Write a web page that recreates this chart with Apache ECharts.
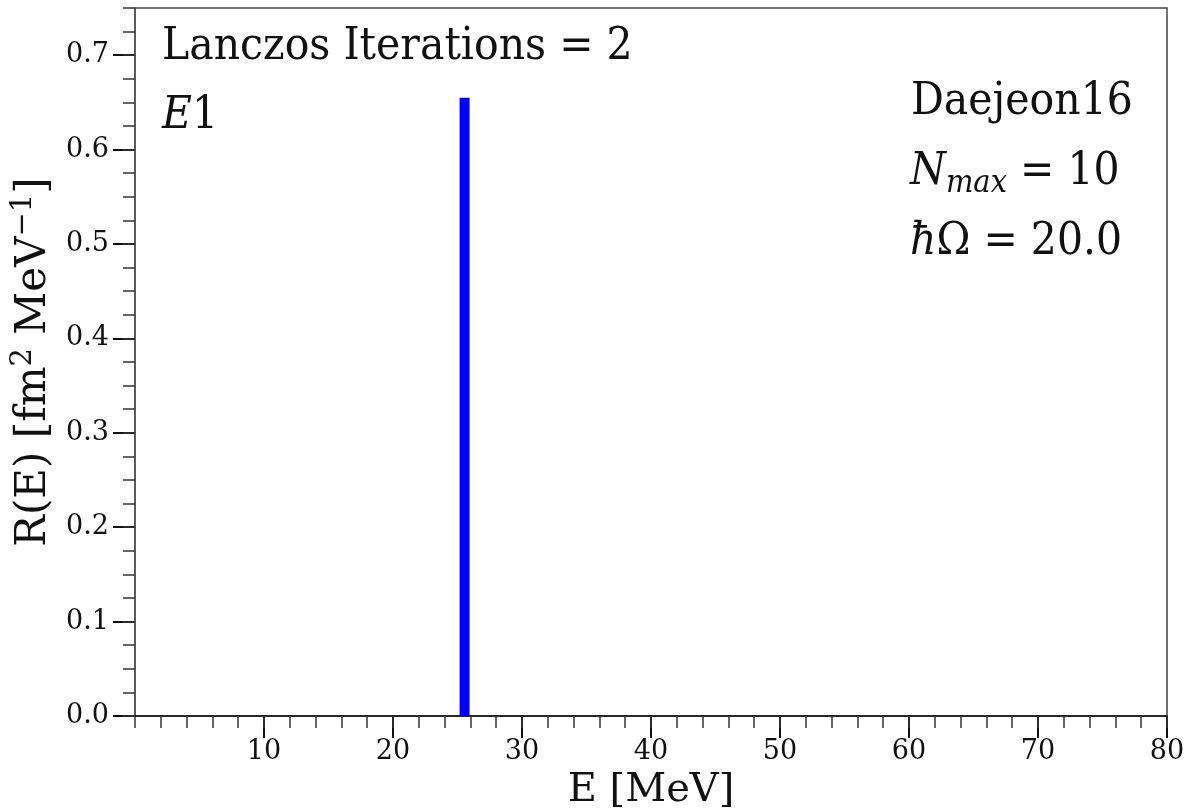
<!DOCTYPE html>
<html>
<head>
<meta charset="utf-8">
<title>Lanczos strength function</title>
<script src="https://cdn.jsdelivr.net/npm/echarts@6/dist/echarts.min.js"></script>
<style>
  html, body { margin: 0; padding: 0; background: #ffffff; overflow: hidden; }
  #chart { width: 1188px; height: 810px; }
</style>
</head>
<body>
<div id="chart"></div>
<script>
// Strength function R(E) after two Lanczos iterations (E1, Daejeon16)
const energies = [25.55];          // E [MeV]
const strengths = [0.655];         // R(E) [fm^2 MeV^-1]
const xMajorTicks = [10, 20, 30, 40, 50, 60, 70, 80];
const yMajorTicks = [0, 0.1, 0.2, 0.3, 0.4, 0.5, 0.6, 0.7];

const SERIF = "'DejaVu Serif', serif";
const barData = energies.map((e, i) => [e, strengths[i]]);

const chart = echarts.init(document.getElementById('chart'), null, { renderer: 'canvas' });

// annotation text is drawn slightly taller than wide, like the axis text
const TEXT_SCALE_Y = 1.07;

const option = {
  animation: false,
  backgroundColor: '#ffffff',
  grid: {
    left: 135, right: 21, top: 8, bottom: 94,
    outerBoundsMode: 'none', containLabel: false,
    show: true, borderColor: '#444', borderWidth: 1.5, backgroundColor: 'transparent'
  },
  xAxis: [
    {
      type: 'value', min: 0, max: 80, interval: 10, position: 'bottom',
      axisLine: { show: true, lineStyle: { color: '#111', width: 1.5 } },
      axisTick: { show: true, inside: false, length: 22, customValues: xMajorTicks,
                  lineStyle: { color: '#111', width: 2 } },
      axisLabel: { show: true, customValues: xMajorTicks, margin: 22,
                   fontFamily: SERIF, fontSize: 27, color: '#111' },
      splitLine: { show: false },
      name: 'E [MeV]', nameLocation: 'middle', nameGap: 55,
      nameTextStyle: { fontFamily: SERIF, fontSize: 40, color: '#111' }
    },
    {
      // minor ticks every 2 MeV
      type: 'value', min: 0, max: 80, interval: 2, position: 'bottom',
      axisLine: { show: false },
      axisTick: { show: true, length: 12, lineStyle: { color: '#333', width: 1.5 } },
      axisLabel: { show: false },
      splitLine: { show: false }
    }
  ],
  yAxis: [
    {
      type: 'value', min: 0, max: 0.75, interval: 0.1, position: 'left',
      axisLine: { show: true, lineStyle: { color: '#555', width: 1.5 } },
      axisTick: { show: true, inside: false, length: 22, customValues: yMajorTicks,
                  lineStyle: { color: '#111', width: 2 } },
      axisLabel: { show: true, customValues: yMajorTicks, margin: 26,
                   formatter: v => v.toFixed(1),
                   fontFamily: SERIF, fontSize: 27, color: '#111' },
      splitLine: { show: false },
      name: '{n|R(E) [fm}{s|2}{n| MeV}{s|−1}{n|]}',
      nameLocation: 'middle', nameRotate: 90, nameGap: 76,
      nameTextStyle: {
        fontFamily: SERIF, fontSize: 42, color: '#111',
        rich: {
          n: { fontFamily: SERIF, fontSize: 42, lineHeight: 50, color: '#111' },
          s: { fontFamily: SERIF, fontSize: 29, lineHeight: 34, verticalAlign: 'top', color: '#111' }
        }
      }
    },
    {
      // minor ticks every 0.025
      type: 'value', min: 0, max: 0.75, interval: 0.025, position: 'left',
      axisLine: { show: false },
      axisTick: { show: true, length: 12, lineStyle: { color: '#333', width: 1.5 } },
      axisLabel: { show: false },
      splitLine: { show: false }
    }
  ],
  series: [
    {
      type: 'bar', xAxisIndex: 0, yAxisIndex: 0,
      data: barData, barWidth: 10,
      itemStyle: { color: '#0000ff' }
    }
  ],
  graphic: [
    {
      type: 'text', x: 162, y: 26, scaleY: TEXT_SCALE_Y,
      style: { text: 'Lanczos Iterations = 2', font: '41px ' + SERIF, fill: '#111' }
    },
    {
      type: 'text', x: 162, y: 95, scaleY: TEXT_SCALE_Y,
      style: {
        text: '{i|E}1', font: '41px ' + SERIF, fill: '#111',
        rich: { i: { fontFamily: SERIF, fontStyle: 'italic', fontSize: 41, fill: '#111' } }
      }
    },
    {
      type: 'text', x: 911, y: 81, scaleY: TEXT_SCALE_Y,
      style: { text: 'Daejeon16', font: '41px ' + SERIF, fill: '#111' }
    },
    {
      type: 'text', x: 910, y: 146, scaleY: TEXT_SCALE_Y,
      style: {
        text: '{i|N}{sub|max} = 10', font: '41px ' + SERIF, fill: '#111', lineHeight: 50,
        rich: {
          i: { fontFamily: SERIF, fontStyle: 'italic', fontSize: 41, lineHeight: 50, fill: '#111' },
          sub: { fontFamily: SERIF, fontStyle: 'italic', fontSize: 29, lineHeight: 32,
                 verticalAlign: 'bottom', fill: '#111' }
        }
      }
    },
    {
      type: 'text', x: 910, y: 221, scaleY: TEXT_SCALE_Y,
      style: {
        text: '{i|ħ}Ω = 20.0', font: '41px ' + SERIF, fill: '#111',
        rich: { i: { fontFamily: SERIF, fontStyle: 'italic', fontSize: 41, fill: '#111' } }
      }
    }
  ]
};

chart.setOption(option);
</script>
</body>
</html>
